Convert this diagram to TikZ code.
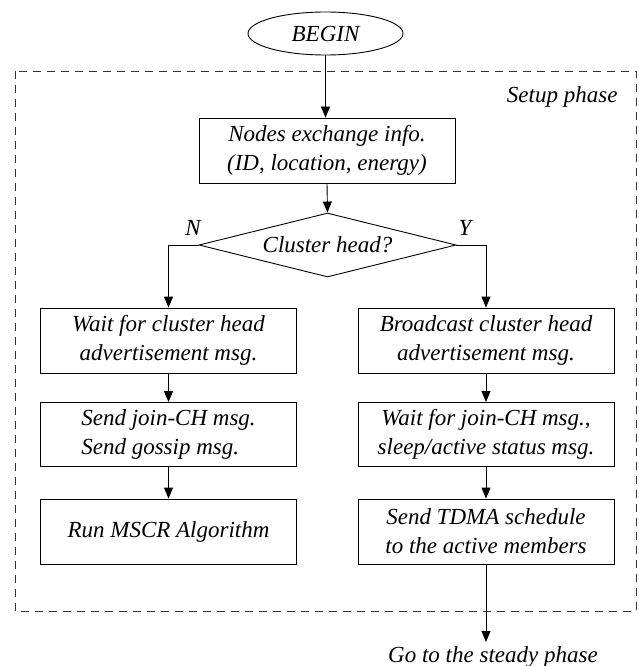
\documentclass[tikz,border=0pt]{standalone}
\usepackage{fontspec}
\setmainfont{Liberation Serif}
\usetikzlibrary{shapes.geometric,arrows.meta}
\begin{document}
\begin{tikzpicture}[x=1pt,y=-1pt,
  every node/.style={font=\fontsize{23}{29}\selectfont\itshape},
  procbox/.style={draw,line width=0.9pt,minimum width=256pt,minimum height=65pt,inner sep=0pt,align=center},
  flow/.style={draw,line width=0.9pt,-{Triangle[width=9pt,length=11pt]}},
  phase/.style={draw,line width=0.9pt,dash pattern=on 8pt off 6pt,black!80}]
\useasboundingbox (0,0) rectangle (638,666);
\draw[phase] (15,71) rectangle (636,611);
\node[anchor=east] (setup) at (621,97) {Setup phase};
\node[draw,ellipse,line width=0.9pt,minimum width=155pt,minimum height=43pt,inner sep=0pt] (begin) at (325.5,33.5) {BEGIN};
\node[procbox] (info) at (327,150.5) {Nodes exchange info.\\(ID, location, energy)};
\node[draw,diamond,line width=0.9pt,minimum width=257pt,minimum height=64pt,inner sep=0pt,aspect=4] (ch) at (327.5,245) {Cluster head?};
\node[procbox] (l1) at (168.5,340.5) {Wait for cluster head\\advertisement msg.};
\node[procbox,minimum height=64pt,align=left] (l2) at (168.5,434.5) {Send join-CH msg.\\Send gossip msg.};
\node[procbox] (l3) at (168.5,531.5) {Run MSCR Algorithm};
\node[procbox] (r1) at (486,340.5) {Broadcast cluster head\\advertisement msg.};
\node[procbox,minimum height=64pt] (r2) at (486,434.5) {Wait for join-CH msg.,\\sleep/active status msg.};
\node[procbox] (r3) at (486,531.5) {Send TDMA schedule\\to the active members};
\node (n) at (193,228) {N};
\node (y) at (465,228) {Y};
\coordinate (steady) at (486,642);
\node[anchor=north] (go) at (493,643) {Go to the steady phase};
\draw[flow] (begin.south) -- (begin.south |- info.north);
\draw[flow] (info.south) -- (ch.north);
\draw[flow] (ch.west) -| (l1.north);
\draw[flow] (ch.east) -| (r1.north);
\draw[flow] (l1) -- (l2);
\draw[flow] (l2) -- (l3);
\draw[flow] (r1) -- (r2);
\draw[flow] (r2) -- (r3);
\draw[flow] (r3.south) -- (steady);
\end{tikzpicture}
\end{document}
